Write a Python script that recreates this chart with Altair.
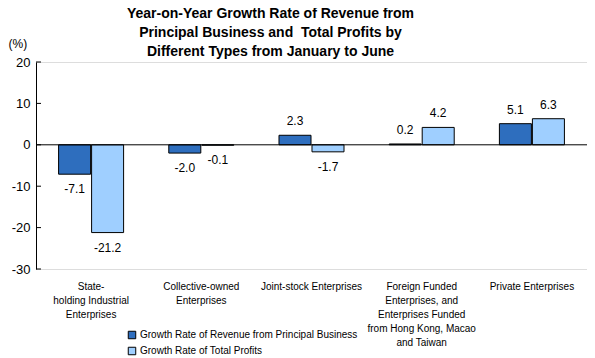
import altair as alt
import pandas as pd

categories = [
    "State-|holding Industrial|Enterprises",
    "Collective-owned|Enterprises",
    "Joint-stock Enterprises",
    "Foreign Funded|Enterprises, and|Enterprises Funded|from Hong Kong, Macao|and Taiwan",
    "Private Enterprises",
]
series = ["Growth Rate of Revenue from Principal Business", "Growth Rate of Total Profits"]
revenue = [-7.1, -2.0, 2.3, 0.2, 5.1]
profits = [-21.2, -0.1, -1.7, 4.2, 6.3]
y_ticks = [-30, -20, -10, 0, 10, 20]
colors = ["#2E6EBE", "#9FCFFF"]

rows = []
for i, c in enumerate(categories):
    rows.append({"cat": c, "series": series[0], "v": revenue[i]})
    rows.append({"cat": c, "series": series[1], "v": profits[i]})
df = pd.DataFrame(rows)
ticks_df = pd.DataFrame({"t": y_ticks})
zero_df = pd.DataFrame({"z": [0]})

FONT = "Liberation Sans"

x_enc = alt.X("cat:N", sort=categories,
              scale=alt.Scale(paddingInner=0.41, paddingOuter=0.205),
              axis=alt.Axis(title=None, domain=False, ticks=False, labelAngle=0,
                            labelExpr="split(datum.label, '|')", labelFont=FONT,
                            labelFontSize=10, labelColor="#000", labelPadding=12,
                            labelLineHeight=14, labelBaseline="top"))
y_scale = alt.Scale(domain=[-30, 20], nice=False)
y_enc = alt.Y("v:Q", scale=y_scale,
              axis=alt.Axis(values=y_ticks, ticks=False, grid=False, domainColor="#000",
                            labelExpr="toString(datum.value)",
                            labelFont=FONT, labelFontSize=13, labelColor="#000", labelPadding=6,
                            title="(%)", titleAngle=0, titleX=-28, titleY=-19, titleAlign="left",
                            titleBaseline="middle", titleFont=FONT, titleFontSize=12,
                            titleFontWeight="normal", titleColor="#000"))

base = alt.Chart(df).transform_calculate(
    lab="replace(format(datum.v, '.1f'), '\u2212', '-')")
bars = base.mark_bar(stroke="#000", strokeWidth=1).encode(
    x=x_enc,
    xOffset=alt.XOffset("series:N", sort=series, scale=alt.Scale(paddingInner=0.03)),
    y=y_enc,
    color=alt.Color("series:N", sort=series, scale=alt.Scale(domain=series, range=colors),
                    legend=alt.Legend(title=None, orient="none", legendX=91, legendY=268,
                                      symbolType="square", symbolSize=56, symbolStrokeColor="#000",
                                      symbolStrokeWidth=1, labelFont=FONT, labelFontSize=10,
                                      labelColor="#000", rowPadding=4, labelLimit=400,
                                      labelOffset=3)),
)
lbl_pos = base.transform_filter("datum.v >= 0").mark_text(
    font=FONT, fontSize=12, color="#000", baseline="middle", dy=-14).encode(
    x=alt.X("cat:N", sort=categories), xOffset=alt.XOffset("series:N", sort=series),
    y=alt.Y("v:Q"), text=alt.Text("lab:N"))
lbl_neg = base.transform_filter("datum.v < 0").mark_text(
    font=FONT, fontSize=12, color="#000", baseline="middle", dy=15).encode(
    x=alt.X("cat:N", sort=categories), xOffset=alt.XOffset("series:N", sort=series),
    y=alt.Y("v:Q"), text=alt.Text("lab:N"))
zero = alt.Chart(zero_df).mark_rule(color="#000", strokeWidth=1).encode(
    y=alt.Y("z:Q", scale=y_scale))
tick_marks = alt.Chart(ticks_df).mark_rule(color="#000", strokeWidth=1).encode(
    y=alt.Y("t:Q", scale=y_scale), x=alt.value(0), x2=alt.value(5))

chart = alt.layer(bars, zero, tick_marks, lbl_pos, lbl_neg).properties(
    width=551, height=207,
    autosize=alt.AutoSizeParams(type="none"),
    padding={"left": 28, "top": 54, "right": 0, "bottom": 89},
    title=alt.Title(["Year-on-Year Growth Rate of Revenue from",
                     "Principal Business and \u00a0Total Profits by",
                     "Different Types from January to June"],
                    font=FONT, fontSize=14, fontWeight="bold", color="#000",
                    anchor="middle", frame="group", dx=-41, offset=-22, lineHeight=19),
).configure_view(stroke=None).configure(background="#ffffff")

chart.save("out.html", embed_options={"renderer": "svg", "actions": False})
